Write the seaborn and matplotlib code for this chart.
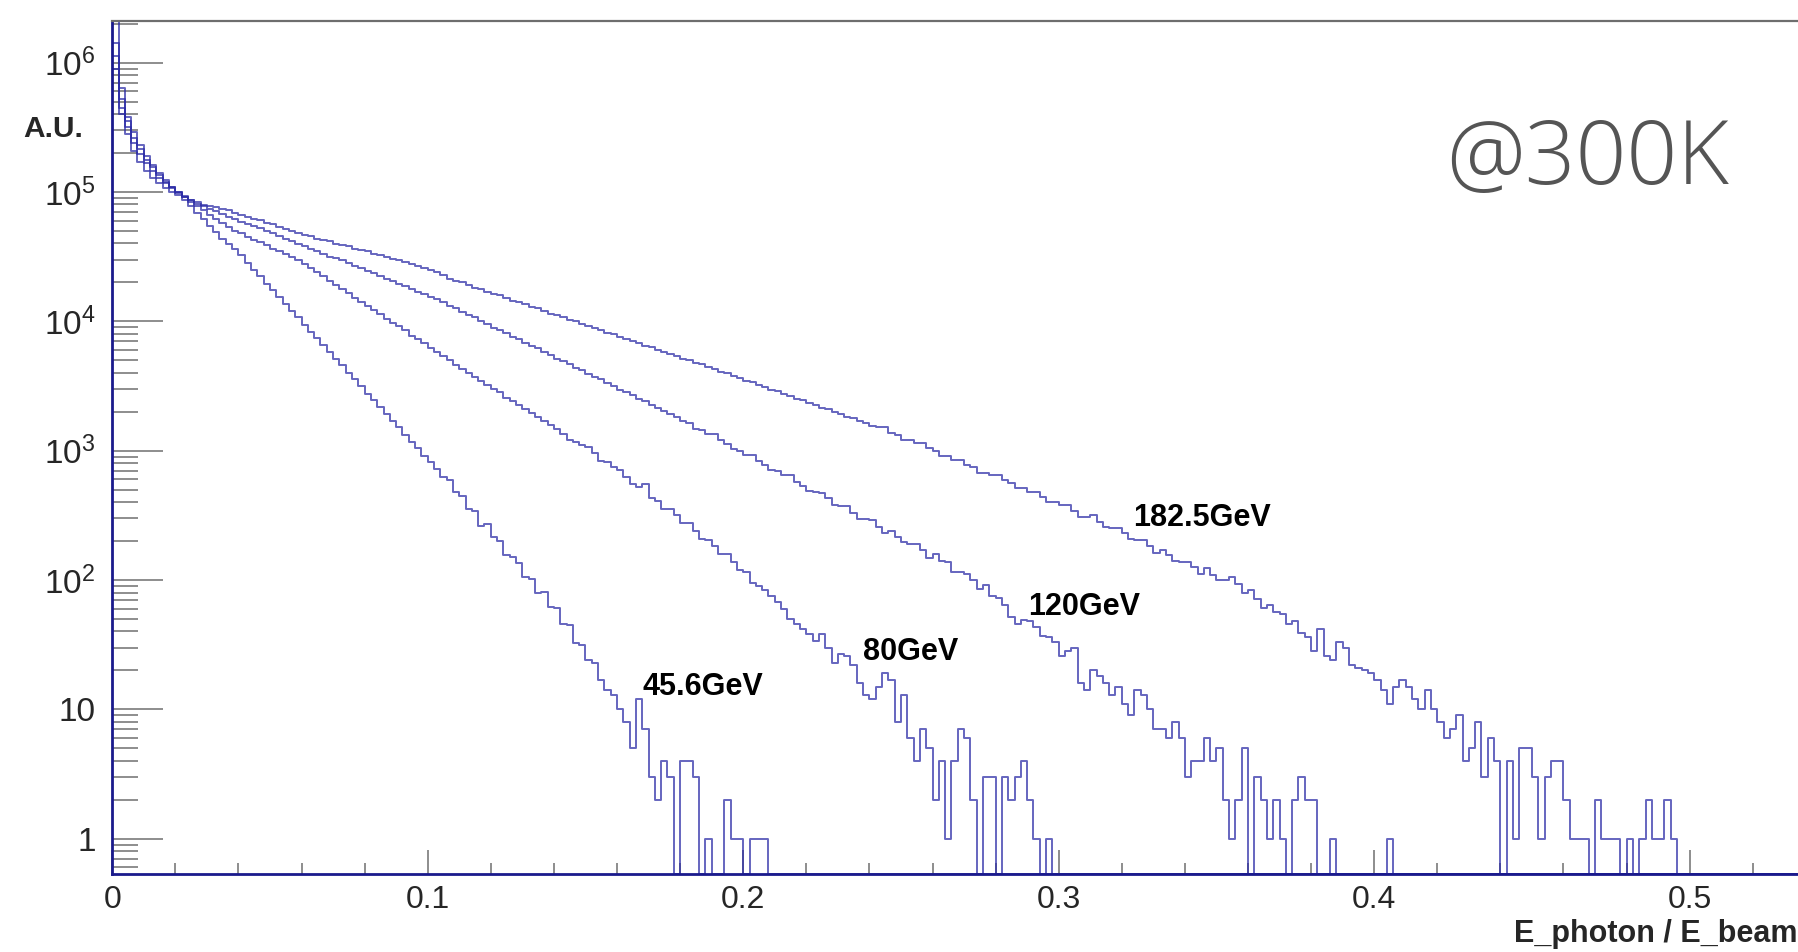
import numpy as np
import pandas as pd
import matplotlib
matplotlib.use("Agg")
import matplotlib.pyplot as plt
from matplotlib import font_manager as fm
from matplotlib.ticker import MultipleLocator, LogLocator, FixedFormatter, FixedLocator, NullFormatter
import seaborn as sns

# ---------------- data ----------------
bin_width = 0.002
n_bins = 275
energies = ["45.6GeV", "80GeV", "120GeV", "182.5GeV"]

# smooth part: log10(counts) per 0.002 bin, starting at x = 0
lg_45 = [6.38, 5.80, 5.58, 5.46, 5.36, 5.28, 5.21, 5.15, 5.09, 5.04,
         4.99, 4.94, 4.89, 4.84, 4.79, 4.74, 4.69, 4.64, 4.60, 4.56,
         4.51, 4.45, 4.40, 4.35, 4.29, 4.24, 4.19, 4.13, 4.08, 4.03,
         3.97, 3.92, 3.87, 3.82, 3.76, 3.71, 3.66, 3.60, 3.55, 3.50,
         3.44, 3.39, 3.34, 3.28, 3.23, 3.18, 3.12, 3.07, 3.02, 2.96,
         2.91, 2.86, 2.80, 2.77, 2.68, 2.65, 2.55, 2.53, 2.42, 2.43,
         2.33, 2.30, 2.19, 2.18, 2.13, 2.02, 2.01, 1.90, 1.91, 1.79,
         1.78, 1.66, 1.65, 1.51, 1.50, 1.38, 1.36]
# noisy tail: counts per 0.002 bin, continuing after the smooth part
tail_45 = [17, 14, 13, 10, 8, 5, 12, 7, 3, 2, 4, 3, 0, 4, 4, 3, 0, 1, 0, 0,
           2, 1, 1, 0, 1, 1, 1]

lg_80 = [6.15, 5.72, 5.55, 5.42, 5.33, 5.25, 5.19, 5.13, 5.08, 5.04,
         5.00, 4.96, 4.92, 4.89, 4.86, 4.82, 4.79, 4.76, 4.73, 4.70,
         4.68, 4.65, 4.63, 4.61, 4.59, 4.56, 4.54, 4.52, 4.50, 4.47,
         4.44, 4.41, 4.38, 4.35, 4.31, 4.28, 4.25, 4.22, 4.18, 4.15,
         4.12, 4.09, 4.06, 4.02, 3.99, 3.96, 3.93, 3.89, 3.86, 3.83,
         3.79, 3.76, 3.73, 3.70, 3.66, 3.63, 3.60, 3.57, 3.54, 3.51,
         3.48, 3.45, 3.41, 3.38, 3.35, 3.32, 3.29, 3.26, 3.23, 3.20,
         3.17, 3.13, 3.08, 3.07, 3.04, 3.03, 2.98, 2.92, 2.91, 2.87,
         2.85, 2.80, 2.74, 2.72, 2.74, 2.63, 2.61, 2.55, 2.55, 2.50,
         2.44, 2.44, 2.38, 2.32, 2.31, 2.26, 2.20, 2.20, 2.14, 2.08,
         2.06]
tail_80 = [95, 90, 83, 75, 68, 60, 50, 46, 42, 38,
           34, 38, 30, 23, 27, 26, 22, 16, 13, 12,
           15, 19, 17, 8, 13, 6, 4, 7, 5, 2,
           4, 1, 4, 7, 6, 2, 0, 3, 3, 0,
           3, 2, 3, 4, 2, 1, 0, 1, 0]

lg_120 = [6.05, 5.65, 5.50, 5.38, 5.29, 5.22, 5.16, 5.11, 5.07, 5.03,
          5.00, 4.97, 4.94, 4.91, 4.89, 4.87, 4.85, 4.83, 4.81, 4.79,
          4.77, 4.75, 4.74, 4.72, 4.70, 4.68, 4.66, 4.64, 4.62, 4.60,
          4.58, 4.56, 4.54, 4.52, 4.50, 4.49, 4.47, 4.45, 4.43, 4.41,
          4.39, 4.37, 4.35, 4.33, 4.31, 4.29, 4.27, 4.25, 4.23, 4.21,
          4.19, 4.17, 4.15, 4.12, 4.10, 4.07, 4.05, 4.03, 4.00, 3.98,
          3.95, 3.93, 3.91, 3.88, 3.86, 3.83, 3.81, 3.79, 3.76, 3.74,
          3.71, 3.69, 3.67, 3.64, 3.62, 3.59, 3.57, 3.55, 3.52, 3.50,
          3.47, 3.45, 3.43, 3.40, 3.38, 3.35, 3.33, 3.31, 3.28, 3.26,
          3.23, 3.21, 3.17, 3.16, 3.13, 3.13, 3.08, 3.05, 3.01, 3.00,
          2.97, 2.97, 2.92, 2.89, 2.85, 2.84, 2.81, 2.81, 2.76, 2.73,
          2.69, 2.68, 2.67, 2.63, 2.58, 2.57, 2.57, 2.52, 2.47, 2.47,
          2.46, 2.41, 2.36, 2.38, 2.33, 2.29, 2.28, 2.28, 2.23, 2.17,
          2.20, 2.15, 2.14, 2.06, 2.06, 2.05, 2.00, 1.93, 1.96, 1.88,
          1.86]
tail_120 = [64, 52, 46, 49, 48, 43, 37, 36, 33, 26,
            28, 30, 16, 14, 20, 18, 16, 13, 15, 11,
            9, 14, 13, 10, 7, 7, 6, 8, 6, 3,
            4, 4, 6, 4, 5, 2, 1, 2, 5, 0,
            3, 2, 1, 2, 1, 0, 2, 3, 2, 2,
            0, 0, 1, 0, 0, 0, 0, 0, 0, 0,
            0, 1]

lg_182 = [5.95, 5.60, 5.45, 5.32, 5.23, 5.16, 5.11, 5.07, 5.03, 5.00,
          4.98, 4.96, 4.94, 4.92, 4.90, 4.89, 4.88, 4.87, 4.86, 4.84,
          4.82, 4.81, 4.79, 4.78, 4.76, 4.75, 4.73, 4.71, 4.70, 4.68,
          4.67, 4.66, 4.64, 4.63, 4.62, 4.60, 4.59, 4.58, 4.56, 4.55,
          4.54, 4.52, 4.51, 4.50, 4.48, 4.47, 4.46, 4.44, 4.43, 4.41,
          4.40, 4.38, 4.36, 4.33, 4.31, 4.30, 4.28, 4.26, 4.25, 4.23,
          4.21, 4.20, 4.18, 4.16, 4.15, 4.13, 4.11, 4.10, 4.08, 4.06,
          4.05, 4.03, 4.01, 4.00, 3.98, 3.96, 3.95, 3.93, 3.91, 3.90,
          3.88, 3.86, 3.85, 3.83, 3.81, 3.80, 3.78, 3.76, 3.75, 3.73,
          3.71, 3.70, 3.68, 3.67, 3.65, 3.63, 3.61, 3.60, 3.58, 3.56,
          3.54, 3.53, 3.51, 3.49, 3.47, 3.46, 3.44, 3.42, 3.40, 3.39,
          3.37, 3.35, 3.33, 3.32, 3.30, 3.28, 3.26, 3.25, 3.23, 3.21,
          3.19, 3.18, 3.18, 3.14, 3.12, 3.08, 3.08, 3.06, 3.06, 3.02,
          3.00, 2.96, 2.96, 2.93, 2.93, 2.89, 2.87, 2.83, 2.83, 2.81,
          2.81, 2.77, 2.75, 2.71, 2.71, 2.68, 2.68, 2.64, 2.60, 2.60,
          2.58, 2.58, 2.53, 2.49, 2.49, 2.50, 2.45, 2.41, 2.40, 2.40,
          2.36, 2.32, 2.31, 2.31, 2.26, 2.21, 2.23, 2.19, 2.15, 2.14,
          2.14, 2.10, 2.05, 2.09, 2.04, 2.00, 2.00, 2.02, 1.97, 1.90,
          1.92, 1.85, 1.78, 1.81, 1.75, 1.74, 1.66, 1.68]
tail_182 = [39, 36, 28, 42, 26, 24, 33, 30, 22, 21,
            20, 19, 17, 14, 11, 15, 17, 15, 12, 10,
            14, 10, 8, 6, 7, 9, 4, 5, 8, 3,
            6, 4, 0, 4, 1, 5, 5, 3, 1, 3,
            4, 4, 2, 1, 1, 1, 0, 2, 1, 1,
            1, 0, 1, 0, 1, 2, 1, 1, 2, 1]

series = {"45.6GeV": (lg_45, tail_45), "80GeV": (lg_80, tail_80),
          "120GeV": (lg_120, tail_120), "182.5GeV": (lg_182, tail_182)}

# label anchor points (data coordinates)
label_pos = {"45.6GeV": (0.1681, 12.9), "80GeV": (0.2381, 24.1),
             "120GeV": (0.2904, 53.6), "182.5GeV": (0.3236, 261.0)}

# ---------------- style ----------------
sns.set_style("white")
plt.rcParams["font.family"] = ["Liberation Sans", "DejaVu Sans"]
plt.rcParams["mathtext.fontset"] = "custom"
plt.rcParams["mathtext.rm"] = "Liberation Sans"
plt.rcParams["mathtext.it"] = "Liberation Sans:italic"
plt.rcParams["mathtext.bf"] = "Liberation Sans:bold"

ymin, ymax = 0.5332, 2.097e6
line_color = "#2b2ba6"
navy = "#1a1a8c"
tick_grey = "#7a7a7a"

# find a light-weight (non-condensed) sans face for the "@300K" note
light_path = None
for pref in ["Open Sans", "Lato", "Roboto", "Noto Sans", "Inter"]:
    for f in fm.fontManager.ttflist:
        base = f.fname.split("/")[-1]
        low = base.lower()
        if (f.name == pref and "light" in low and "extra" not in low
                and "italic" not in low and "cond" not in low and "narrow" not in low
                and f.stretch in ("normal", 500)):
            light_path = f.fname
            break
    if light_path:
        break

# ---------------- build long-form table ----------------
rows = []
edges = np.arange(n_bins + 1) * bin_width
for name in energies:
    lg, tail = series[name]
    vals = np.concatenate([10.0 ** np.array(lg), np.array(tail, dtype=float)])
    vals = np.pad(vals, (0, n_bins - len(vals)))
    vals = np.maximum(vals, ymin)   # empty bins drawn on the lower frame, as ROOT does
    xs = np.concatenate([[0.0], edges])
    ys = np.concatenate([[ymin], vals, [vals[-1]]])
    rows.append(pd.DataFrame({"x": xs, "y": ys, "energy": name}))
df = pd.concat(rows, ignore_index=True)

# ---------------- figure ----------------
fig = plt.figure(figsize=(17.99, 9.52), dpi=100)
ax = fig.add_axes([0.06237, 0.08193, 0.96456, 0.89601])

sns.lineplot(data=df, x="x", y="y", hue="energy", units="energy", estimator=None,
             sort=False, palette={e: line_color for e in energies}, legend=False,
             drawstyle="steps-post", linewidth=1.4, alpha=0.72, ax=ax)

ax.set_yscale("log")
ax.set_xlim(0, 0.55)
ax.set_ylim(ymin, ymax)
ax.set_xlabel("")
ax.set_ylabel("")

# ticks
ax.xaxis.set_major_locator(MultipleLocator(0.1))
ax.xaxis.set_minor_locator(MultipleLocator(0.02))
ax.xaxis.set_major_formatter(matplotlib.ticker.FuncFormatter(
    lambda v, p: "0" if abs(v) < 1e-9 else f"{v:g}"))
ytick_vals = [1, 10, 1e2, 1e3, 1e4, 1e5, 1e6]
ytick_labels = ["1", "10", r"$\mathregular{10^{2}}$", r"$\mathregular{10^{3}}$",
                r"$\mathregular{10^{4}}$", r"$\mathregular{10^{5}}$", r"$\mathregular{10^{6}}$"]
ax.yaxis.set_major_locator(FixedLocator(ytick_vals))
ax.yaxis.set_major_formatter(FixedFormatter(ytick_labels))
ax.yaxis.set_minor_locator(LogLocator(base=10, subs=np.arange(2, 10), numticks=30))
ax.yaxis.set_minor_formatter(NullFormatter())

ax.tick_params(axis="y", which="major", direction="in", length=36.7, width=1.2,
               color=tick_grey, pad=12, labelsize=24, left=True, right=False)
ax.tick_params(axis="y", which="minor", direction="in", length=18.7, width=1.2,
               color=tick_grey, left=True, right=False)
ax.tick_params(axis="x", which="major", direction="in", length=17.3, width=1.2,
               color=tick_grey, pad=8, labelsize=23, bottom=True, top=False)
ax.tick_params(axis="x", which="minor", direction="in", length=7.9, width=1.2,
               color=tick_grey, bottom=True, top=False)

for side in ["left", "bottom"]:
    ax.spines[side].set_color(navy)
    ax.spines[side].set_linewidth(2.0)
ax.spines["top"].set_color("#6e6e6e")
ax.spines["top"].set_linewidth(1.6)
ax.spines["right"].set_visible(False)

# curve labels
for name in energies:
    lx, ly = label_pos[name]
    ax.text(lx, ly, name, fontsize=22, fontweight="bold", ha="left", va="baseline",
            color="black")

# axis titles
fig.text(23 / 1799, 1 - 137 / 952, "A.U.", fontsize=21.5, fontweight="bold",
         ha="left", va="baseline")
fig.text(1514 / 1799, 10 / 952, "E_photon / E_beam", fontsize=22, fontweight="bold",
         ha="left", va="baseline")

# annotation
if light_path:
    fp = fm.FontProperties(fname=light_path, size=64)
    fig.text(1446 / 1799, 1 - 184 / 952, "@300K", fontproperties=fp, color="#555555",
             ha="left", va="baseline")
else:
    fig.text(1446 / 1799, 1 - 184 / 952, "@300K", fontsize=62, color="#555555",
             family=["Open Sans", "Lato", "DejaVu Sans"], fontweight="light",
             ha="left", va="baseline")

fig.savefig("out.png", dpi=100)
